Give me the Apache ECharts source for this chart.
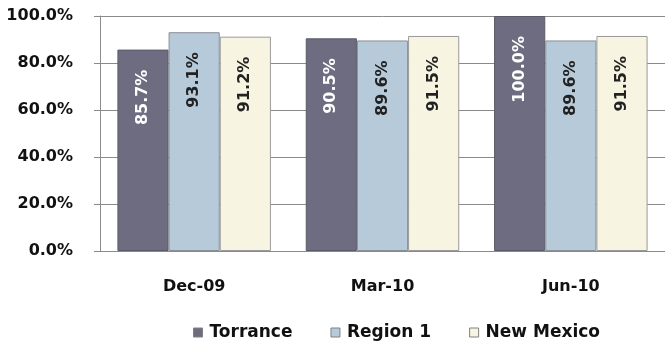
<!DOCTYPE html>
<html><head><meta charset="utf-8">
<script src="https://cdn.jsdelivr.net/npm/echarts@6/dist/echarts.min.js"></script>
<style>html,body{margin:0;padding:0;background:#fff}#c{width:665px;height:343px}</style>
</head><body><div id="c"></div>
<script>
const categories = ['Dec-09', 'Mar-10', 'Jun-10'];
const torrance = [85.7, 90.5, 100.0];
const region1 = [93.1, 89.6, 89.6];
const newMexico = [91.2, 91.5, 91.5];
const seriesNames = ['Torrance', 'Region 1', 'New Mexico'];

const FONT = '"DejaVu Sans", sans-serif';
function lbl(color) {
  return {
    show: true, position: 'insideTop', rotate: 90, align: 'right', verticalAlign: 'middle',
    distance: 20, color: color, fontFamily: FONT, fontWeight: 'bold', fontSize: 16,
    formatter: p => p.value.toFixed(1) + '%'
  };
}
const chart = echarts.init(document.getElementById('c'), null, {renderer: 'canvas'});
chart.setOption({
  animation: false,
  backgroundColor: '#ffffff',
  grid: {left: 100, right: -1, top: 16, bottom: 92, containLabel: false},
  legend: {
    top: 324, left: 193, itemWidth: 9, itemHeight: 9, itemGap: 38, padding: 0,
    icon: 'rect',
    textStyle: {fontFamily: FONT, fontWeight: 'bold', fontSize: 17, color: '#111', padding: [0, 0, 0, 2]},
    data: seriesNames.map(n => ({name: n, itemStyle: {borderColor: '#808080', borderWidth: 1}}))
  },
  xAxis: {
    type: 'category', data: categories,
    axisLine: {lineStyle: {color: '#8a8a8a', width: 1}},
    axisTick: {show: false},
    axisLabel: {fontFamily: FONT, fontWeight: 'bold', fontSize: 16, color: '#111', margin: 28}
  },
  yAxis: {
    type: 'value', min: 0, max: 100, interval: 20,
    axisLine: {show: true, lineStyle: {color: '#8a8a8a'}},
    axisTick: {show: true, length: 6, lineStyle: {color: '#8a8a8a'}},
    splitLine: {lineStyle: {color: '#8a8a8a', width: 1}},
    axisLabel: {fontFamily: FONT, fontWeight: 'bold', fontSize: 16, color: '#111', margin: 27,
      formatter: v => v.toFixed(1) + '%'}
  },
  series: [
    {name: seriesNames[0], type: 'bar', data: torrance, barGap: '0%', barCategoryGap: '18.5%',
      itemStyle: {color: '#6d6c80', borderColor: '#5a5a68', borderWidth: 1}, label: lbl('#ffffff')},
    {name: seriesNames[1], type: 'bar', data: region1,
      itemStyle: {color: '#b7cad9', borderColor: '#8a8f96', borderWidth: 1}, label: lbl('#222222')},
    {name: seriesNames[2], type: 'bar', data: newMexico,
      itemStyle: {color: '#f7f5e1', borderColor: '#9a9a9a', borderWidth: 1}, label: lbl('#222222')}
  ]
});
</script></body></html>
